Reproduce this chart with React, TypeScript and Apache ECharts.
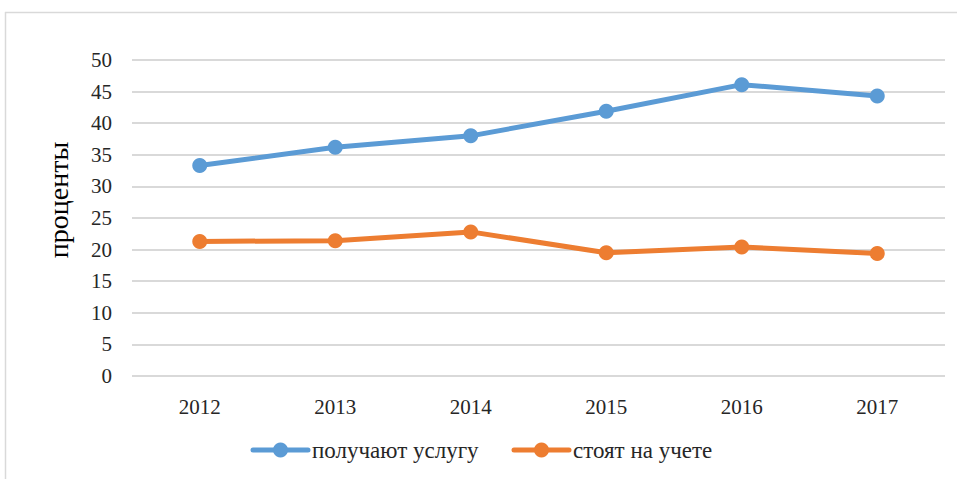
import React, { useEffect, useRef } from "react";
import * as echarts from "echarts";

const categories = ["2012", "2013", "2014", "2015", "2016", "2017"];
const receiveService = [33.3, 36.2, 38.0, 41.9, 46.1, 44.3];
const registered = [21.3, 21.4, 22.8, 19.5, 20.4, 19.4];
const seriesNames = ["получают услугу", "стоят на учете"];
const seriesColors = ["#5b9bd5", "#ed7d31"];
const yAxisName = "проценты";

export default function App() {
  const ref = useRef<HTMLDivElement>(null);
  useEffect(() => {
    if (!ref.current) return;
    const chart = echarts.init(ref.current, null, { renderer: "svg" });
    const font = "Liberation Serif";
    const legendX = [253, 514];
    const legendY = 450;
    const legendItems = seriesNames.map((name, i) => ({
      type: "group",
      x: legendX[i],
      y: legendY,
      children: [
        { type: "line", shape: { x1: 0, y1: 0, x2: 55, y2: 0 }, style: { stroke: seriesColors[i], lineWidth: 5, lineCap: "round" } },
        { type: "circle", shape: { cx: 27.5, cy: 0, r: 7.5 }, style: { fill: seriesColors[i] } },
        {
          type: "text",
          x: 59,
          y: 0,
          style: { text: name, fontFamily: font, fontSize: 23, fill: "#262626", align: "left", verticalAlign: "middle" },
        },
      ],
    }));
    chart.setOption({
      animation: false,
      backgroundColor: "#ffffff",
      textStyle: { fontFamily: font },
      graphic: [
        { type: "line", shape: { x1: 5, y1: 12.5, x2: 957, y2: 12.5 }, style: { stroke: "#d9d9d9", lineWidth: 1.5 } },
        { type: "line", shape: { x1: 5.5, y1: 12, x2: 5.5, y2: 479 }, style: { stroke: "#d9d9d9", lineWidth: 1.5 } },
        {
          type: "text",
          x: 58,
          y: 200,
          rotation: Math.PI / 2,
          style: {
            text: yAxisName,
            fontFamily: font,
            fontSize: 28,
            fill: "#000000",
            align: "center",
            verticalAlign: "middle",
          },
        },
        ...legendItems,
      ],
      grid: { left: 132, right: 12, top: 60, bottom: 103, containLabel: false },
      xAxis: {
        type: "category",
        data: categories,
        boundaryGap: true,
        axisLine: { show: false },
        axisTick: { show: false },
        axisLabel: { fontFamily: font, fontSize: 21, color: "#262626", margin: 20 },
      },
      yAxis: {
        type: "value",
        min: 0,
        max: 50,
        interval: 5,
        axisLine: { show: false },
        axisTick: { show: false },
        axisLabel: { fontFamily: font, fontSize: 21, color: "#262626", margin: 20 },
        splitLine: { lineStyle: { color: "#d9d9d9", width: 2 } },
      },
      series: [
        {
          name: seriesNames[0],
          type: "line",
          data: receiveService,
          symbol: "circle",
          symbolSize: 15,
          itemStyle: { color: seriesColors[0] },
          lineStyle: { color: seriesColors[0], width: 5 },
        },
        {
          name: seriesNames[1],
          type: "line",
          data: registered,
          symbol: "circle",
          symbolSize: 15,
          itemStyle: { color: seriesColors[1] },
          lineStyle: { color: seriesColors[1], width: 5 },
        },
      ],
    });
    return () => chart.dispose();
  }, []);
  return (
    <div
      ref={ref}
      style={{ position: "fixed", left: 0, top: 0, width: 957, height: 479 }}
    />
  );
}
